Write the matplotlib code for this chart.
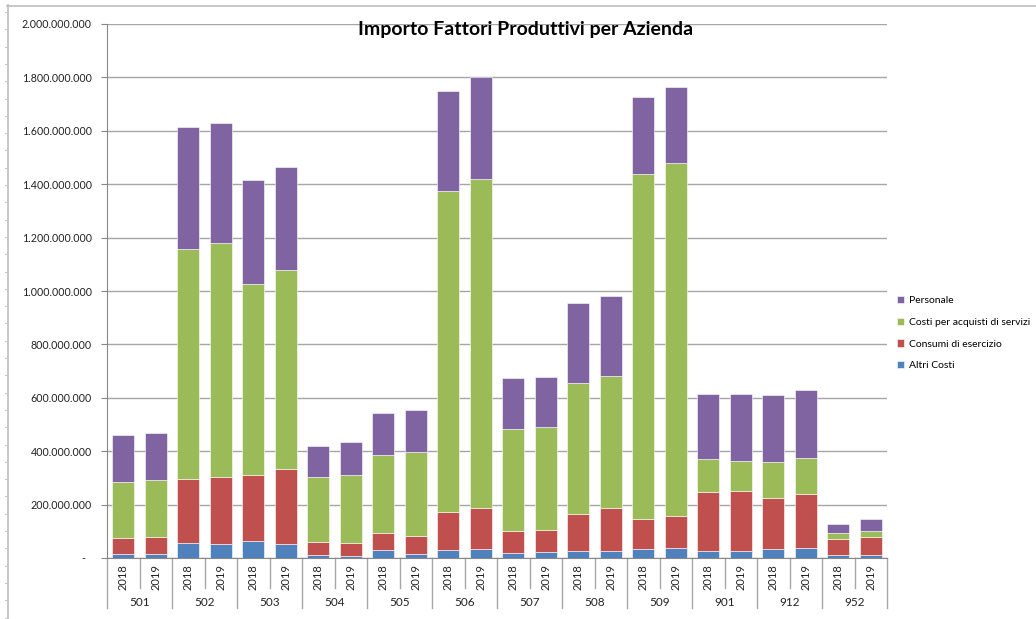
import matplotlib
matplotlib.use("Agg")
import matplotlib.pyplot as plt
import matplotlib.transforms as mtransforms
from matplotlib.lines import Line2D
import numpy as np

plt.rcParams['font.family'] = ['Lato', 'DejaVu Sans']

title = "Importo Fattori Produttivi per Azienda"
aziende = ["501", "502", "503", "504", "505", "506", "507", "508", "509", "901", "912", "952"]
anni = ["2018", "2019"]

# segment values (euro), order per bar: 501-2018, 501-2019, 502-2018, ...
altri_costi = [16e6, 16e6, 56e6, 52e6, 62e6, 52e6, 11e6, 9e6, 30e6, 16e6, 31e6, 34e6,
               19e6, 24e6, 26e6, 26e6, 34e6, 37e6, 27e6, 27e6, 34e6, 36e6, 10e6, 10e6]
consumi = [60e6, 64e6, 240e6, 250e6, 250e6, 280e6, 49e6, 47e6, 65e6, 66e6, 142e6, 153e6,
           83e6, 82e6, 139e6, 161e6, 113e6, 121e6, 220e6, 223e6, 189e6, 204e6, 62e6, 70e6]
servizi = [210e6, 212e6, 861e6, 878e6, 716e6, 745e6, 242e6, 256e6, 289e6, 315e6, 1200e6, 1232e6,
           381e6, 383e6, 492e6, 496e6, 1292e6, 1320e6, 124e6, 114e6, 138e6, 135e6, 23e6, 20e6]
personale = [173e6, 177e6, 459e6, 451e6, 388e6, 388e6, 119e6, 121e6, 158e6, 158e6, 375e6, 381e6,
             190e6, 190e6, 298e6, 297e6, 286e6, 286e6, 243e6, 250e6, 249e6, 255e6, 33e6, 45e6]

series_names = ["Altri Costi", "Consumi di esercizio", "Costi per acquisti di servizi", "Personale"]
colors = ["#4F81BD", "#C0504D", "#9BBB59", "#8064A2"]
yticks = np.arange(0, 2.0e9 + 1, 2e8)

W, H = 1036, 619
fig = plt.figure(figsize=(W / 100, H / 100), dpi=100)
fig.patch.set_facecolor("white")

def fx(px):
    return px / W
def fy(py):
    return 1 - py / H

# chart border (top and left only) with small ruler ticks on the left
fig.add_artist(Line2D([fx(7), fx(1036)], [fy(5.5), fy(5.5)], color="#BFBFBF", lw=1.2))
fig.add_artist(Line2D([fx(7.5), fx(7.5)], [fy(5), fy(619)], color="#BFBFBF", lw=1.2))
for py in np.arange(12, 619, 17.3):
    fig.add_artist(Line2D([fx(4.5), fx(7.5)], [fy(py), fy(py)], color="#C8C8C8", lw=0.8))

left, right, top, bottom = 107, 887, 24, 558
ax = fig.add_axes([left / W, 1 - bottom / H, (right - left) / W, (bottom - top) / H])

n = len(altri_costi)
x = np.arange(n)
data = [altri_costi, consumi, servizi, personale]
base = np.zeros(n)
bars = []
for vals, c, name in zip(data, colors, series_names):
    b = ax.bar(x, vals, width=0.68, bottom=base, color=c, edgecolor="white", linewidth=0.4,
               label=name, zorder=3)
    bars.append(b)
    base = base + np.array(vals)

ax.set_xlim(-0.5, n - 0.5)
ax.set_ylim(0, 2.0e9)
ax.set_yticks(yticks)
def fmt(v):
    if v == 0:
        return "-  "
    return f"{int(v):,}".replace(",", ".")
ax.set_yticklabels([fmt(v) for v in yticks], fontsize=7.7, color="#222222")
ax.yaxis.grid(True, color="#A6A6A6", lw=1, zorder=0)
ax.set_axisbelow(True)
ax.tick_params(axis="y", length=4, color="#888888", pad=7)
ax.tick_params(axis="x", length=0, labelbottom=False)
for s in ["top", "right"]:
    ax.spines[s].set_visible(False)
ax.spines["left"].set_color("#888888")
ax.spines["bottom"].set_color("#888888")

# multi-level x axis
trans = mtransforms.blended_transform_factory(ax.transData, ax.transAxes)
ah = bottom - top
def yax(py):
    return -(py - bottom) / ah

for i in range(n):
    ax.text(x[i], yax(577), anni[i % 2], rotation=90, ha="center", va="center",
            fontsize=8, transform=trans, color="#222222")
for g, name in enumerate(aziende):
    ax.text(2 * g + 0.5, yax(602), name, ha="center", va="center", fontsize=8.5,
            transform=trans, color="#222222")
for g in range(len(aziende) + 1):
    xs = 2 * g - 0.5
    ax.plot([xs, xs], [0, yax(608)], transform=trans, color="#A6A6A6", lw=1, clip_on=False)
for g in range(len(aziende)):
    xs = 2 * g + 0.5
    ax.plot([xs, xs], [0, yax(588)], transform=trans, color="#A6A6A6", lw=1, clip_on=False)

fig.text(526 / W, 1 - 30 / H, title, ha="center", va="center", fontsize=14, fontweight="bold")

handles = [bars[3], bars[2], bars[1], bars[0]]
labels = [series_names[3], series_names[2], series_names[1], series_names[0]]
leg = fig.legend(handles, labels, loc="upper left", bbox_to_anchor=(893 / W, 1 - 292 / H),
                 frameon=False, fontsize=7.5, handlelength=0.7, handleheight=0.7,
                 handletextpad=0.4, labelspacing=1.18, borderaxespad=0)

fig.savefig("out.png", dpi=100)
